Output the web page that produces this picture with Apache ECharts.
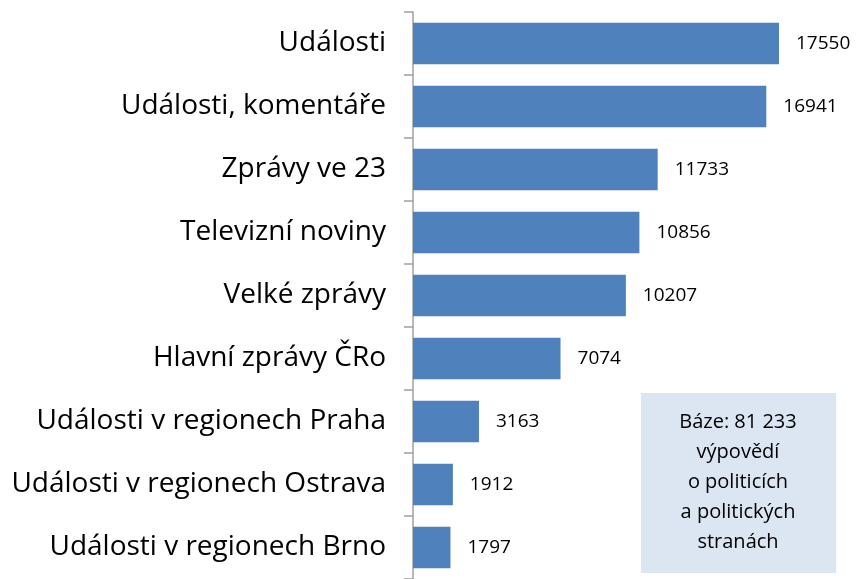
<!DOCTYPE html>
<html>
<head>
<meta charset="utf-8">
<script src="https://cdn.jsdelivr.net/npm/echarts@6/dist/echarts.min.js"></script>
<style>
  html, body { margin: 0; padding: 0; background: #fff; }
  #chart { width: 864px; height: 579px; }
</style>
</head>
<body>
<div id="chart"></div>
<script>
var categories = [
  "Události",
  "Události, komentáře",
  "Zprávy ve 23",
  "Televizní noviny",
  "Velké zprávy",
  "Hlavní zprávy ČRo",
  "Události v regionech Praha",
  "Události v regionech Ostrava",
  "Události v regionech Brno"
];
var counts = [17550, 16941, 11733, 10856, 10207, 7074, 3163, 1912, 1797];
var noteLines = ["Báze: 81 233", "výpovědí", "o politicích", "a politických", "stranách"];

var font = "Open Sans, sans-serif";
var myChart = echarts.init(document.getElementById("chart"));

var option = {
  animation: false,
  grid: {
    left: 413,
    top: 12,
    width: 366,
    height: 571
  },
  xAxis: {
    type: "value",
    min: 0,
    max: 17550,
    show: false
  },
  yAxis: {
    type: "category",
    data: categories,
    inverse: true,
    axisLine: { lineStyle: { color: "#a0a0a0", width: 1.5 } },
    axisTick: { show: true, length: 9, lineStyle: { color: "#a0a0a0", width: 1.5 } },
    axisLabel: {
      color: "#000",
      fontSize: 28,
      fontFamily: font,
      margin: 27
    }
  },
  series: [
    {
      type: "bar",
      data: counts,
      barCategoryGap: "34%",
      itemStyle: { color: "#4f81bd" },
      label: {
        show: true,
        position: "right",
        distance: 17,
        color: "#000",
        fontSize: 19,
        fontFamily: font
      }
    }
  ],
  graphic: [
    {
      type: "rect",
      x: 641,
      y: 393,
      shape: { width: 195, height: 180 },
      style: { fill: "#dce6f2" }
    },
    {
      type: "text",
      x: 738,
      y: 407,
      style: {
        text: noteLines.join("\n"),
        align: "center",
        verticalAlign: "top",
        fontSize: 20,
        lineHeight: 30,
        fontFamily: font,
        fill: "#000"
      }
    }
  ]
};

myChart.setOption(option);
</script>
</body>
</html>
